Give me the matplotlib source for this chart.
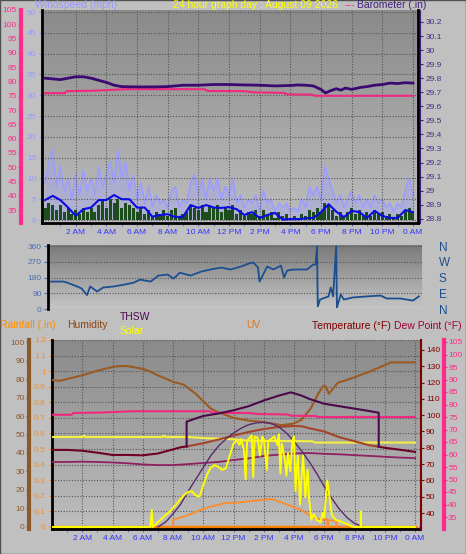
import numpy as np
import matplotlib
matplotlib.use('Agg')
import matplotlib.pyplot as plt
from matplotlib.colors import LinearSegmentedColormap
from matplotlib.patches import Rectangle

plt.rcParams['font.family'] = ['Liberation Sans', 'DejaVu Sans']

# ---------------- data ----------------
hour_ticks = [2, 4, 6, 8, 10, 12, 14, 16, 18, 20, 22, 24]
hour_labels = ['2 AM', '4 AM', '6 AM', '8 AM', '10 AM', '12 PM',
               '2 PM', '4 PM', '6 PM', '8 PM', '10 PM', '0 AM']

# wind, 15 minute samples
q_t = np.arange(0, 24.01, 0.25)
gust = [9, 14, 17, 8, 13, 7, 10, 5,
        11, 6, 12, 7, 10, 6, 13, 8,
        11, 14, 9, 17, 10, 14, 7, 11,
        5, 9, 4, 8, 3, 6, 4, 5,
        3, 7, 8, 3, 5, 4, 9, 11,
        6, 10, 5, 10, 7, 10, 5, 8,
        6, 10, 4, 6, 3, 5, 4, 6,
        2, 7, 4, 5, 2, 4, 3, 4,
        2, 3, 2, 5, 3, 8, 6, 8,
        5, 13, 10, 7, 4, 6, 3, 5,
        7, 4, 6, 3, 5, 3, 6, 4,
        5, 3, 4, 2, 4, 3, 7, 10,
        6]
wind_speed = [3, 4, 3.5, 2.5, 3.5, 2, 3, 1.5,
              2.5, 1.5, 3, 2, 3, 2, 3.5, 4.5,
              3, 5, 4, 5, 3, 4, 3.5, 3,
              2, 3, 1.5, 2.5, 1, 2, 1.5, 2.5,
              1, 2.5, 3, 1, 1.5, 2, 3.5, 3,
              2.5, 3.5, 2, 3.5, 3, 3.5, 2, 3,
              2.5, 3.5, 1.5, 2.5, 1, 2, 1.5, 2.5,
              1, 2.5, 1.5, 2, 0.5, 2, 1, 1.5,
              0.5, 1, 0.5, 1.5, 1, 2.5, 2, 3,
              2, 4, 3.5, 2.5, 1, 2, 1, 2,
              3, 1.5, 2.5, 1, 2, 1, 2.5, 1.5,
              2, 1, 1.5, 0.5, 1.5, 1, 2.5, 3,
              2]
avg_t = np.arange(0, 24.01, 0.5)
wind_avg = [4.8, 5.8, 4.8, 3.0, 1.0, 2.6, 3.0, 4.8,
            4.8, 6.0, 5.0, 5.0, 3.0, 3.0, 0.8, 1.2,
            1.4, 0.7, 0.8, 3.6, 2.9, 3.6, 3.0, 2.9,
            3.1, 2.6, 1.2, 1.9, 0.5, 1.2, 1.7, 0.1,
            0.2, 0.2, 0.4, 0.5, 1.9, 3.8, 2.0, 0.7,
            2.2, 1.9, 0.5, 2.2, 1.0, 0.5, 0.5, 2.4,
            1.9]

baro_t = [0, 0.5, 1, 1.5, 2, 2.5, 3, 3.5, 4, 4.5, 5, 6, 7, 8, 8.5, 9, 10, 11, 12, 13,
          14, 15, 16, 16.5, 17, 17.5, 18, 18.3, 18.6, 19, 19.3, 19.6, 20, 20.6, 21, 21.5,
          22, 22.5, 23, 23.5, 24]
baro = [29.80, 29.795, 29.79, 29.80, 29.81, 29.81, 29.80, 29.785, 29.77, 29.75, 29.74,
        29.738, 29.738, 29.74, 29.745, 29.75, 29.75, 29.755, 29.755, 29.752,
        29.75, 29.745, 29.748, 29.752, 29.75, 29.745, 29.72, 29.695, 29.71, 29.725,
        29.715, 29.73, 29.72, 29.735, 29.74, 29.75, 29.755, 29.765, 29.762, 29.768, 29.765]
baro_ticks = [28.8, 28.9, 29.0, 29.1, 29.2, 29.3, 29.4, 29.5, 29.6, 29.7, 29.8, 29.9, 30.0, 30.1, 30.2]
baro_labels = ['28.8', '28.9', '29', '29.1', '29.2', '29.3', '29.4', '29.5',
               '29.6', '29.7', '29.8', '29.9', '30', '30.1', '30.2']

# pink series (same scale in top and bottom panel)
pink_t = [0, 1.3, 1.4, 3.3, 5.3, 10.4, 10.6, 13.0, 13.6, 15.6, 15.8, 17.4, 17.6, 24]
pink = [75.9, 75.9, 76.6, 76.8, 77.3, 77.3, 76.7, 76.6, 76.2, 76.0, 75.5, 75.4, 75.0, 75.0]

# wind direction
dir_t = [0, 0.8, 1.05, 1.7, 2.0, 2.2, 2.35, 2.55, 3.0, 3.4, 4.1, 4.8, 5.4, 5.8, 6.5,
         7.0, 7.6, 8.0, 8.4, 9.1, 9.8, 10.4, 11.1, 11.7, 12.4, 12.9, 13.2, 13.5, 13.6,
         13.9, 14.1, 14.5, 15.0, 15.2, 15.4, 15.8, 16.7, 17.1, 17.25, 17.35, 17.4, 17.55,
         18.1, 18.25, 18.4, 18.6, 18.65, 18.9, 19.1, 19.7, 20.6, 21.5, 21.9, 22.8, 23.6, 24]
wind_dir = [157, 157, 151, 129, 117, 94, 80, 129, 100, 123, 129, 140, 151, 168, 157,
            191, 197, 174, 208, 191, 214, 226, 237, 226, 243, 260, 266, 237, 157,
            208, 243, 226, 248, 180, 220, 226, 226, 254, 254, 357, 15, 54,
            72, 123, 72, 357, 9, 83, 54, 66, 72, 77, 60, 60, 48, 72]
compass = ['N', 'W', 'S', 'E', 'N']

# bottom panel
rain_t = [0, 24]
rain = [0.0, 0.0]
rain_ticks = [0, 0.1, 0.2, 0.3, 0.4, 0.5, 0.6, 0.7, 0.8, 0.9, 1.0, 1.1, 1.2]
rain_labels = ['0', '0.1', '0.2', '0.3', '0.4', '0.5', '0.6', '0.7', '0.8', '0.9', '1', '1.1', '1.2']

hum_t = [0, 0.5, 1, 2, 3, 4, 4.5, 5, 6, 6.5, 7, 8, 8.7, 9.5, 10.5, 11, 12, 13, 13.7, 14.5,
         15.2, 16, 16.5, 17.1, 17.6, 17.9, 18.1, 18.3, 18.9, 19.5, 20, 21, 22, 22.4, 23, 24]
humidity = [79.5, 79, 80, 82, 84.5, 86.5, 87, 87, 85.5, 84, 82, 78.5, 77, 72, 64, 62, 59,
            57.5, 57, 56, 55, 56, 58, 64, 72, 76, 76, 72, 78, 79.5, 81, 84, 87.5, 89, 89, 89]

temp_t = [0, 1, 2, 3, 4, 5, 6, 7, 7.5, 8, 8.5, 9, 10, 11, 12, 13, 14, 15, 16, 16.5,
          17, 18, 19, 20, 21, 21.6, 22, 23, 24]
temperature = [78.7, 78.7, 78.2, 77.0, 75.6, 75.6, 75.4, 76.5, 77.8, 79.0, 80.3, 81.0,
               82.8, 85.0, 87.5, 89.7, 91.5, 92.8, 93.4, 93.2, 92.0, 90.0, 86.5, 84.0,
               81.5, 80.7, 80.0, 78.8, 77.5]

thsw_t = [8.9, 8.9, 9.5, 10, 11, 12, 13, 14, 15, 15.8, 16.5, 17, 17.5, 18, 19, 20, 21, 21.6, 21.6]
thsw = [80.8, 96, 98, 99.5, 101, 103, 105.5, 109, 112, 114, 112, 110, 108.5, 107, 105.5,
        104, 102.5, 101.5, 80.7]

dew_t = [0, 1, 2, 3, 4, 5, 6, 7, 8, 9, 10, 11, 12, 13, 14, 15, 16, 17, 18, 19, 20, 21, 22, 23, 24]
dew_point = [71.3, 71.3, 71.5, 71.3, 71.0, 70.5, 69.8, 69.4, 69.4, 70.0, 70.7, 71.3, 72.5,
             73.5, 75.0, 75.8, 76.5, 76.8, 76.3, 76.0, 75.5, 75.0, 74.5, 74.0, 73.7]

flat_t = [0, 2.0, 2.1, 2.2, 7.3, 7.4, 7.5, 9, 10, 12, 13, 17.2, 17.4, 24]
flat_yellow = [86.6, 86.6, 87.5, 86.6, 86.6, 87.5, 86.6, 86.6, 86.0, 85.2, 84.3, 84.0, 83.2, 83.2]

bell_t = [7.0, 7.5, 8, 8.5, 9, 9.5, 10, 10.5, 11, 11.5, 12, 12.5, 13, 13.5, 14, 14.5, 15,
          15.5, 16, 16.5, 17, 17.5, 18, 18.5, 19, 19.5, 20, 20.5, 20.7]
solar_max = [0, 40, 110, 190, 300, 400, 500, 600, 680, 740, 790, 830, 860, 875, 880, 870,
             840, 790, 720, 640, 550, 450, 340, 240, 150, 80, 30, 5, 0]

solar_t = [0, 6.5, 6.6, 6.65, 6.75, 7.0, 7.25, 7.5, 7.75, 8.0, 8.25, 8.5, 8.75, 9.0, 9.25,
           9.5, 9.75, 10.0, 10.25, 10.5, 10.75, 11.0, 11.25, 11.5, 11.75, 12.0, 12.2, 12.4,
           12.5, 12.7, 12.8, 12.9, 13.0, 13.2, 13.3, 13.4, 13.6, 13.75, 13.9, 14.0, 14.2,
           14.3, 14.5, 14.7, 14.9, 15.0, 15.1, 15.2, 15.4, 15.5, 15.6, 15.75, 15.9, 16.0,
           16.1, 16.25, 16.4, 16.5, 16.6, 16.75, 16.9, 17.0, 17.15, 17.3, 17.5, 17.75,
           17.9, 18.0, 18.2, 18.35, 18.5, 18.75, 19.0, 19.3, 19.6, 19.8, 20.0, 20.4,
           20.42, 20.44, 24]
solar = [0, 0, 143, 0, 10, 40, 70, 100, 125, 160, 195, 235, 270, 295, 300,
         265, 255, 350, 440, 500, 520, 505, 480, 495, 600, 700, 730, 690,
         740, 640, 400, 720, 740, 770, 420, 760, 750, 600, 760, 740, 480,
         720, 740, 760, 690, 780, 450, 700, 560, 430, 620, 470, 730, 760,
         300, 600, 190, 420, 600, 250, 480, 230, 60, 110, 60, 40,
         120, 80, 390, 250, 100, 60, 50, 35, 20, 5, 0, 0,
         130, 0, 0]

uv_t = [8.0, 8.0, 8.5, 9.0, 9.8, 10.4, 11.5, 12.0, 13.2, 14.5, 15.1, 15.8, 16.5, 17.2,
        17.9, 18.2, 18.2, 18.25, 18.25, 18.8, 18.8]
uv = [0, 1.4, 1.9, 2.4, 3.4, 4.0, 4.8, 4.8, 5.2, 5.6, 5.0, 4.2, 3.4, 2.0,
      1.4, 1.6, 0, 0, 1.4, 1.2, 0]

# ---------------- figure ----------------
W, H = 466, 554
fig = plt.figure(figsize=(W / 100, H / 100), dpi=100)
fig.patch.set_facecolor('#c0c0c0')


def box(x0, y0, x1, y1):
    return [x0 / W, 1 - y1 / H, (x1 - x0) / W, (y1 - y0) / H]


grad = np.linspace(0, 1, 128).reshape(-1, 1)


def backdrop(ax, top, bottom):
    cm = LinearSegmentedColormap.from_list('bg', [bottom, top])
    ax.imshow(grad, cmap=cm, origin='lower', extent=[0, 1, 0, 1],
              transform=ax.transAxes, aspect='auto', zorder=0)


def hide_spines(ax, keep=()):
    for k, s in ax.spines.items():
        s.set_visible(k in keep)


grid_kw = dict(color='#555555', linestyle=(0, (1, 1.5)), linewidth=0.8)
blue_lbl = '#3535ff'

# ---- top panel: wind + barometer ----
ax1 = fig.add_axes(box(42, 10, 418, 223))
backdrop(ax1, '#8a8a8a', '#bebebe')
ax1.fill_between(q_t, 0, gust, color='#9d9dff', alpha=0.35, lw=0, zorder=1.4)
ax1.plot(q_t, gust, color='#9d9dff', lw=1.2, zorder=1.5)
ax1.bar(q_t, wind_speed, width=0.2, color='#1d4d1d', zorder=2)
ax1.plot(avg_t, wind_avg, color='#0a0ae6', lw=1.5, zorder=3)
ax1.set_xlim(-0.2, 24.33)
ax1.set_ylim(-0.72, 50.5)
ax1.set_yticks(range(0, 51, 5))
ax1.set_xticks(hour_ticks)
ax1.set_xticklabels(hour_labels)
ax1.set_xticks(range(1, 24, 2), minor=True)
ax1.tick_params(axis='y', color='#9999ff', labelcolor='#9999ff', labelsize=6, length=2.5, pad=1.5)
ax1.tick_params(axis='x', which='both', color='#6a6ac0', labelcolor=blue_lbl, labelsize=6, length=2.5, pad=2)
ax1.grid(True, **grid_kw)
hide_spines(ax1, keep=('left', 'bottom', 'right'))
for k in ('left', 'bottom', 'right'):
    ax1.spines[k].set_linewidth(2)
    ax1.spines[k].set_color('black')

axp = ax1.twinx()
hide_spines(axp, keep=('left',))
axp.spines['left'].set_position(('axes', -0.056))
axp.spines['left'].set_color('#ff2a8a')
axp.spines['left'].set_linewidth(3)
axp.yaxis.set_ticks_position('left')
axp.set_ylim(30.5, 105)
axp.set_yticks(range(35, 106, 5))
axp.tick_params(axis='y', color='#ff2a8a', labelcolor='#ff2a8a', labelsize=6, length=2, pad=1)
axp.plot(pink_t, pink, color='#f0287f', lw=1.5)

axb = ax1.twinx()
hide_spines(axb, keep=('right',))
axb.spines['right'].set_position(('axes', 1.006))
axb.spines['right'].set_color('#40207a')
axb.set_ylim(28.77, 30.285)
axb.set_yticks(baro_ticks)
axb.set_yticklabels(baro_labels)
axb.tick_params(axis='y', color='#40207a', labelcolor='#4a2a8a', labelsize=6, length=2.5, pad=1.5)
axb.plot(baro_t, baro, color='#3a0a72', lw=2)

# ---- middle panel: wind direction ----
ax2 = fig.add_axes(box(48, 245, 422, 309))
backdrop(ax2, '#7a7a7a', '#c6c6c6')
ax2.plot(dir_t, wind_dir, color='#1b4f91', lw=1.3, zorder=3)
ax2.set_xlim(-0.2, 24.2)
ax2.set_ylim(0, 366)
ax2.set_yticks([0, 90, 180, 270, 360])
ax2.set_xticks([])
ax2.tick_params(axis='y', color='#4a70b0', labelcolor='#4a70b0', labelsize=6, length=3, pad=1.5)
ax2.grid(True, axis='y', **grid_kw)
hide_spines(ax2, keep=('left',))
ax2.spines['left'].set_linewidth(2)

axc = ax2.twinx()
hide_spines(axc)
axc.set_ylim(0, 366)
axc.set_yticks([360, 270, 180, 90, 0])
axc.set_yticklabels(compass)
axc.tick_params(axis='y', length=0, pad=12, labelcolor='#1b4f91', labelsize=8.5)

# ---- bottom panel ----
ax3 = fig.add_axes(box(52, 340, 420, 529))
backdrop(ax3, '#8a8a8a', '#bebebe')
ax3.set_xlim(0, 24.33)
ax3.set_ylim(-0.013, 1.19)
ax3.set_yticks(rain_ticks)
ax3.set_yticklabels(rain_labels)
ax3.set_xticks(hour_ticks)
ax3.set_xticklabels(hour_labels)
ax3.set_xticks(range(1, 24, 2), minor=True)
ax3.tick_params(axis='y', color='#ff8c1a', labelcolor='#ff8c1a', labelsize=6, length=2, pad=2.5)
ax3.tick_params(axis='x', which='both', color='#6a6ac0', labelcolor=blue_lbl, labelsize=6, length=2.5, pad=2)
ax3.grid(True, **grid_kw)
hide_spines(ax3, keep=('left', 'bottom'))
ax3.spines['left'].set_linewidth(2)
ax3.spines['bottom'].set_linewidth(2)
ax3.plot(rain_t, rain, color='#ff8000', lw=2.5, zorder=2)

axh = ax3.twinx()
hide_spines(axh, keep=('left',))
axh.spines['left'].set_position(('axes', -0.0625))
axh.spines['left'].set_color('#8b5a2b')
axh.spines['left'].set_linewidth(3)
axh.yaxis.set_ticks_position('left')
axh.set_ylim(-1.1, 101.1)
axh.set_yticks(range(0, 101, 10))
axh.tick_params(axis='y', color='#8b5a2b', labelcolor='#8b5a2b', labelsize=6, length=2, pad=1)
axh.plot(hum_t, humidity, color='#9a5a22', lw=1.5)

axd = ax3.twinx()
hide_spines(axd, keep=('right',))
axd.spines['right'].set_position(('axes', 1.0652))
axd.spines['right'].set_color('#ff2a8a')
axd.spines['right'].set_linewidth(3)
axd.set_ylim(30.2, 105.8)
axd.set_yticks(range(35, 106, 5))
axd.tick_params(axis='y', color='#ff2a8a', labelcolor='#ff2a8a', labelsize=6, length=2, pad=1)
axd.plot(pink_t, pink, color='#f0287f', lw=1.5)

axt = ax3.twinx()
hide_spines(axt, keep=('right',))
axt.spines['right'].set_position(('axes', 1.0027))
axt.spines['right'].set_color('#800000')
axt.spines['right'].set_linewidth(1.5)
axt.set_ylim(30.2, 146.1)
axt.set_yticks(range(40, 141, 10))
axt.tick_params(axis='y', color='#800000', labelcolor='#800000', labelsize=6, length=2.5, pad=1)
axt.plot(flat_t, flat_yellow, color='#f4f040', lw=1.5)
axt.plot(dew_t, dew_point, color='#902060', lw=1.3)
n1 = temp_t.index(9)
n2 = temp_t.index(21.6)
axt.plot(temp_t[:n1 + 1], temperature[:n1 + 1], color='#700020', lw=1.5)
axt.plot(temp_t[n1:n2 + 1], temperature[n1:n2 + 1], color='#a4442c', lw=1.5)
axt.plot(temp_t[n2:], temperature[n2:], color='#700020', lw=1.5)
axt.plot(thsw_t, thsw, color='#4a0a4a', lw=1.5)

axu = ax3.twinx()
hide_spines(axu)
axu.set_yticks([])
axu.set_ylim(-0.4, 37.4)
axu.plot(uv_t, uv, color='#ff8c2a', lw=1.3)

axs = ax3.twinx()
hide_spines(axs)
axs.set_yticks([])
axs.set_ylim(-17, 1572)
axs.plot(bell_t, solar_max, color='#5a2a6a', lw=1)
axs.plot(solar_t, solar, color='#ffff00', lw=1.4)

# ---- header texts ----
def label(x, y, s, c, size=7.5):
    fig.text(x / W, 1 - y / H, s, color=c, fontsize=size, va='center', ha='left')


label(35, 5, 'Windspeed (mph)', '#9999ff')
label(173, 5, '24 hour graph day : August 09 2026', '#ffff00')
label(345, 5, '---', '#ff2a8a')
label(357, 5, 'Barometer (.in)', '#40207a')
label(0, 325, 'Rainfall (.in)', '#ff8c00')
label(67, 325, 'Humidity', '#8b4513')
label(120, 317, 'THSW', '#4a0a50')
label(120, 331, 'Solar', '#ffff00')
label(246, 325, 'UV', '#e07a20')
label(312, 326, 'Temperature (\u00b0F)', '#800000')
label(394, 326, 'Dew Point (\u00b0F)', '#a0003c')

fig.add_artist(Rectangle((0, 0), 1, 1, transform=fig.transFigure, fill=False,
                         edgecolor='#505050', lw=1))

fig.savefig('out.png', dpi=100, facecolor=fig.get_facecolor())
